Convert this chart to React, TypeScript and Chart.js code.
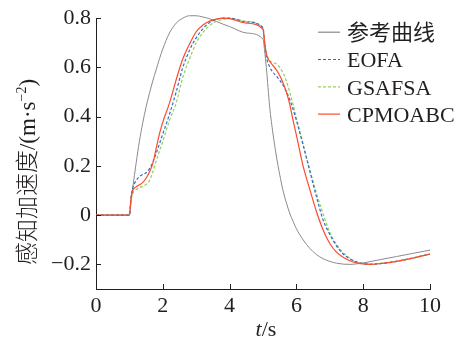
import React, { useEffect, useRef } from 'react';
import { Chart, registerables } from 'chart.js';

Chart.register(...registerables);

const times = [0, 1, 1.05, 1.1, 1.2, 1.3, 1.4, 1.5, 1.6, 1.7, 1.8, 1.9, 2.0, 2.2, 2.4, 2.6, 2.8, 3.0, 3.2, 3.4, 3.6, 3.8, 4.0, 4.5, 5.0, 5.05, 5.1, 5.2, 5.3, 5.4, 5.5, 5.6, 5.7, 5.8, 5.9, 6.0, 6.2, 6.4, 6.6, 6.8, 7.0, 7.2, 7.4, 7.6, 7.8, 8.0, 8.2, 8.5, 9.0, 9.5, 10];

const referenceCurve = [0, 0, 0.055, 0.11, 0.21, 0.3, 0.375, 0.44, 0.495, 0.545, 0.59, 0.635, 0.675, 0.74, 0.78, 0.8, 0.81, 0.81, 0.805, 0.798, 0.787, 0.776, 0.766, 0.74, 0.715, 0.665, 0.6, 0.44, 0.33, 0.24, 0.165, 0.1, 0.05, 0.008, -0.025, -0.055, -0.1, -0.135, -0.16, -0.177, -0.188, -0.195, -0.199, -0.2, -0.198, -0.194, -0.189, -0.181, -0.168, -0.155, -0.142];

const eofa = [0, 0, 0.075, 0.11, 0.14, 0.157, 0.165, 0.172, 0.188, 0.215, 0.25, 0.29, 0.33, 0.41, 0.5, 0.6, 0.67, 0.72, 0.757, 0.782, 0.795, 0.8, 0.8, 0.785, 0.762, 0.7, 0.645, 0.602, 0.58, 0.565, 0.548, 0.528, 0.502, 0.47, 0.43, 0.385, 0.285, 0.18, 0.075, -0.02, -0.078, -0.125, -0.158, -0.178, -0.19, -0.197, -0.2, -0.197, -0.188, -0.174, -0.158];

const gsafsa = [0, 0, 0.06, 0.088, 0.103, 0.112, 0.117, 0.125, 0.14, 0.175, 0.22, 0.26, 0.3, 0.385, 0.455, 0.56, 0.635, 0.7, 0.742, 0.77, 0.787, 0.795, 0.8, 0.787, 0.758, 0.7, 0.66, 0.628, 0.62, 0.614, 0.6, 0.578, 0.545, 0.5, 0.45, 0.395, 0.29, 0.185, 0.09, 0.005, -0.07, -0.118, -0.152, -0.175, -0.19, -0.196, -0.198, -0.196, -0.187, -0.173, -0.158];

const cpmoabc = [0, 0, 0.07, 0.1, 0.115, 0.123, 0.133, 0.15, 0.175, 0.21, 0.27, 0.33, 0.378, 0.455, 0.55, 0.635, 0.695, 0.745, 0.772, 0.788, 0.796, 0.8, 0.798, 0.78, 0.755, 0.7, 0.655, 0.625, 0.607, 0.59, 0.567, 0.537, 0.5, 0.45, 0.385, 0.325, 0.2, 0.105, 0.015, -0.06, -0.115, -0.15, -0.171, -0.185, -0.194, -0.198, -0.2, -0.197, -0.188, -0.174, -0.158];

const seriesNames = ['参考曲线', 'EOFA', 'GSAFSA', 'CPMOABC'];
const xTicks = [0, 2, 4, 6, 8, 10];
const yTicks = [-0.2, 0, 0.2, 0.4, 0.6, 0.8];
const yTitleCjk = '感知加速度';
const yTitleUnit = '/(m·s';
const yTitleSup = '−2';
const xTitleVar = 't';
const xTitleUnit = '/s';

const SERIF = '"Liberation Serif", "Times New Roman", "Noto Sans CJK SC", serif';
const TEXT = '#231f20';

const toPoints = (vals: number[]) => times.map((t, i) => ({ x: t, y: vals[i] }));

const decorPlugin = {
  id: 'decor',
  afterDraw(chart: any) {
    const ctx: CanvasRenderingContext2D = chart.ctx;
    const xs = chart.scales.x;
    const ys = chart.scales.y;
    const area = chart.chartArea;
    ctx.save();
    ctx.strokeStyle = TEXT;
    ctx.lineWidth = 1;
    ctx.beginPath();
    xTicks.forEach((v) => {
      const px = Math.round(xs.getPixelForValue(v)) + 0.5;
      ctx.moveTo(px, area.bottom);
      ctx.lineTo(px, area.bottom - 5);
    });
    yTicks.forEach((v) => {
      const py = Math.round(ys.getPixelForValue(v)) + 0.5;
      ctx.moveTo(area.left, py);
      ctx.lineTo(area.left + 5, py);
    });
    ctx.stroke();

    const lx = area.right - 112;
    chart.data.datasets.forEach((ds: any, i: number) => {
      const ly = area.top + 14 + i * 27.3;
      ctx.beginPath();
      ctx.strokeStyle = ds.borderColor;
      ctx.lineWidth = 1.2;
      ctx.setLineDash(ds.borderDash || []);
      ctx.moveTo(lx, ly);
      ctx.lineTo(lx + 22, ly);
      ctx.stroke();
      ctx.setLineDash([]);
      ctx.fillStyle = TEXT;
      ctx.font = `22px ${SERIF}`;
      ctx.textBaseline = 'middle';
      ctx.textAlign = 'left';
      ctx.fillText(ds.label, lx + 29, ly + 2);
    });

    ctx.textBaseline = 'alphabetic';
    ctx.font = `italic 22px ${SERIF}`;
    const w1 = ctx.measureText(xTitleVar).width;
    ctx.font = `22px ${SERIF}`;
    const w2 = ctx.measureText(xTitleUnit).width;
    const cx = (area.left + area.right) / 2 + 3;
    const x0 = cx - (w1 + w2) / 2;
    ctx.font = `italic 22px ${SERIF}`;
    ctx.fillText(xTitleVar, x0, 336);
    ctx.font = `22px ${SERIF}`;
    ctx.fillText(xTitleUnit, x0 + w1, 336);

    const cjkFont = '300 23px "Noto Sans CJK SC", sans-serif';
    const unitFont = `23px ${SERIF}`;
    const supFont = `14px ${SERIF}`;
    ctx.font = cjkFont;
    const a = ctx.measureText(yTitleCjk).width;
    ctx.font = unitFont;
    const b = ctx.measureText(yTitleUnit).width;
    const c = ctx.measureText(')').width;
    ctx.font = supFont;
    const d = ctx.measureText(yTitleSup).width;
    const total = a + b + c + d;
    ctx.translate(35, 172);
    ctx.rotate(-Math.PI / 2);
    let p = -total / 2;
    ctx.font = cjkFont;
    ctx.fillText(yTitleCjk, p, 0);
    p += a;
    ctx.font = unitFont;
    ctx.fillText(yTitleUnit, p, 0);
    p += b;
    ctx.font = supFont;
    ctx.fillText(yTitleSup, p, -9);
    p += d;
    ctx.font = unitFont;
    ctx.fillText(')', p, 0);
    ctx.restore();
  },
};

export default function App() {
  const ref = useRef<HTMLCanvasElement | null>(null);
  useEffect(() => {
    document.body.style.margin = '0';
    const canvas = ref.current;
    if (!canvas) return;
    const chart = new Chart(canvas, {
      type: 'line',
      data: {
        datasets: [
          { label: seriesNames[0], data: toPoints(referenceCurve), borderColor: '#8a8a8a', borderWidth: 1, order: 3 },
          { label: seriesNames[1], data: toPoints(eofa), borderColor: '#2f6fc8', borderWidth: 1.2, borderDash: [3, 2], order: 1 },
          { label: seriesNames[2], data: toPoints(gsafsa), borderColor: '#93cf5f', borderWidth: 1.2, borderDash: [3, 2], order: 2 },
          { label: seriesNames[3], data: toPoints(cpmoabc), borderColor: '#ff4a2a', borderWidth: 1.2, order: 0 },
        ] as any,
      },
      options: {
        animation: false,
        responsive: false,
        devicePixelRatio: 1,
        layout: { padding: { top: 15, right: 38, left: 0, bottom: 0 } },
        elements: { point: { radius: 0 }, line: { cubicInterpolationMode: 'monotone' } },
        datasets: { line: { clip: false } as any },
        plugins: { legend: { display: false }, tooltip: { enabled: false } },
        scales: {
          x: {
            type: 'linear',
            min: 0,
            max: 10,
            afterBuildTicks: (s: any) => { s.ticks = xTicks.map((v) => ({ value: v })); },
            afterFit: (s: any) => { s.height = 53; },
            grid: { display: true, drawOnChartArea: false, drawTicks: false },
            border: { display: true, color: TEXT, width: 1 },
            ticks: { color: TEXT, font: { family: SERIF, size: 22 }, padding: 4, maxRotation: 0, autoSkip: false },
          },
          y: {
            type: 'linear',
            min: -0.3,
            max: 0.8,
            afterBuildTicks: (s: any) => { s.ticks = yTicks.map((v) => ({ value: v })); },
            afterFit: (s: any) => { s.width = 96; },
            grid: { display: true, drawOnChartArea: false, drawTicks: false },
            border: { display: true, color: TEXT, width: 1 },
            ticks: {
              color: TEXT,
              font: { family: SERIF, size: 22 },
              padding: 5,
              autoSkip: false,
              callback: (v: any) => {
                const n = Math.round(Number(v) * 10) / 10;
                return n < 0 ? '−' + Math.abs(n) : String(n);
              },
            },
          },
        },
      } as any,
      plugins: [decorPlugin],
    });
    return () => chart.destroy();
  }, []);
  return (
    <div style={{ width: 468, height: 342 }}>
      <canvas ref={ref} width={468} height={342} style={{ display: 'block' }} />
    </div>
  );
}
